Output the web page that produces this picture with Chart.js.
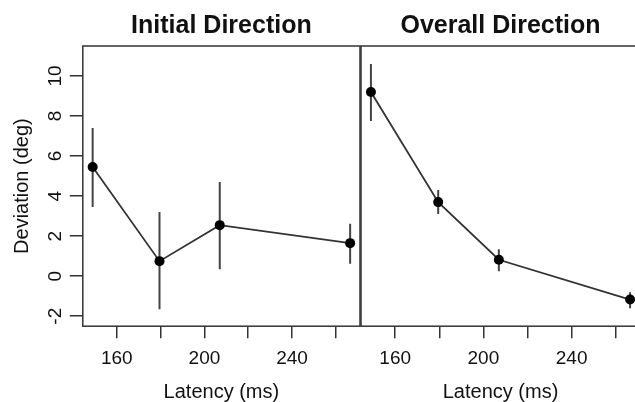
<!DOCTYPE html>
<html>
<head>
<meta charset="utf-8">
<script src="https://cdn.jsdelivr.net/npm/chart.js@4/dist/chart.umd.min.js"></script>
<style>
  html, body { margin: 0; padding: 0; background: #fff; }
  body { width: 635px; height: 402px; overflow: hidden; position: relative; }
  #leftBox { position: absolute; left: 0; top: 0; width: 365px; height: 402px; }
  #rightBox { position: absolute; left: 340px; top: 0; width: 320px; height: 402px; }
</style>
</head>
<body>
<div id="leftBox"><canvas id="leftChart"></canvas></div>
<div id="rightBox"><canvas id="rightChart"></canvas></div>
<script>
// latency (ms) of the four bins, shared by both panels
const latency = [149, 179.5, 207, 266.5];

// Initial Direction panel
const initialMean = [5.45, 0.75, 2.55, 1.65];
const initialLow = [3.45, -1.65, 0.35, 0.62];
const initialHigh = [7.4, 3.2, 4.7, 2.62];

// Overall Direction panel
const overallMean = [9.2, 3.7, 0.82, -1.17];
const overallLow = [7.75, 3.1, 0.25, -1.6];
const overallHigh = [10.6, 4.3, 1.35, -0.8];

// axis ticks
const xTicks = [160, 180, 200, 220, 240, 260];
const xTickLabels = ["160", "", "200", "", "240", ""];
const yTicks = [-2, 0, 2, 4, 6, 8, 10];

const ink = "#333";
const fontFamily = "'Liberation Sans', Arial, Helvetica, sans-serif";

//draws the frame round the plot area
const frame = {
  id: "frame",
  afterDraw(chart) {
    const a = chart.chartArea;
    const ctx = chart.ctx;
    ctx.save();
    ctx.strokeStyle = ink;
    ctx.lineWidth = 1.5;
    ctx.strokeRect(a.left, a.top, a.right - a.left, a.bottom - a.top);
    ctx.restore();
  },
};

function buildDatasets(mean, low, high) {
  const sets = [
    {
      data: latency.map((x, i) => ({ x: x, y: mean[i] })),
      showLine: true,
      borderColor: ink,
      borderWidth: 1.8,
      pointRadius: 5,
      pointBackgroundColor: "#000",
      pointBorderWidth: 0,
    },
  ];
  // one vertical segment per point for the error bar
  latency.forEach((x, i) => {
    sets.push({
      data: [
        { x: x, y: low[i] },
        { x: x, y: high[i] },
      ],
      showLine: true,
      borderColor: "#444",
      borderWidth: 2,
      pointRadius: 0,
    });
  });
  return sets;
}

function buildOptions(title, showY, padLeft, padRight) {
  return {
    responsive: true,
    maintainAspectRatio: false,
    animation: false,
    layout: { padding: { left: padLeft, right: padRight, top: 0, bottom: 0 } },
    plugins: {
      legend: { display: false },
      tooltip: { enabled: false },
      title: {
        display: true,
        text: title,
        fullSize: false,
        color: "#111",
        font: { family: fontFamily, size: 25, weight: "bold", lineHeight: 1.2 },
        padding: { top: 11, bottom: 5 },
      },
    },
    scales: {
      x: {
        type: "linear",
        min: 144.5,
        max: 271,
        afterBuildTicks: (axis) => {
          axis.ticks = xTicks.map((v) => ({ value: v }));
        },
        ticks: {
          color: "#111",
          font: { family: fontFamily, size: 19 },
          padding: 9,
          maxRotation: 0,
          autoSkip: false,
          callback: (value) => xTickLabels[xTicks.indexOf(value)],
        },
        grid: { drawOnChartArea: false, drawTicks: true, tickLength: 12, color: ink, lineWidth: 1.5 },
        border: { display: false },
        title: {
          display: true,
          text: "Latency (ms)",
          color: "#111",
          font: { family: fontFamily, size: 20, lineHeight: 1 },
          padding: { top: 3, bottom: 0 },
        },
      },
      y: {
        type: "linear",
        display: showY,
        min: -2.5,
        max: 11.5,
        afterBuildTicks: (axis) => {
          axis.ticks = yTicks.map((v) => ({ value: v }));
        },
        ticks: {
          color: "#111",
          font: { family: fontFamily, size: 19 },
          padding: 3,
          minRotation: 90,
          maxRotation: 90,
          crossAlign: "center",
        },
        grid: { drawOnChartArea: false, drawTicks: true, tickLength: 13, color: ink, lineWidth: 1.5 },
        border: { display: false },
        title: {
          display: true,
          text: "Deviation (deg)",
          color: "#111",
          font: { family: fontFamily, size: 20, lineHeight: 1 },
          padding: { top: 12, bottom: 9 },
        },
      },
    },
  };
}

new Chart(document.getElementById("leftChart").getContext("2d"), {
  type: "scatter",
  data: { datasets: buildDatasets(initialMean, initialLow, initialHigh) },
  options: buildOptions("Initial Direction", true, 0, 1),
  plugins: [frame],
});

new Chart(document.getElementById("rightChart").getContext("2d"), {
  type: "scatter",
  data: { datasets: buildDatasets(overallMean, overallLow, overallHigh) },
  options: buildOptions("Overall Direction", false, 21, 20),
  plugins: [frame],
});
</script>
</body>
</html>
